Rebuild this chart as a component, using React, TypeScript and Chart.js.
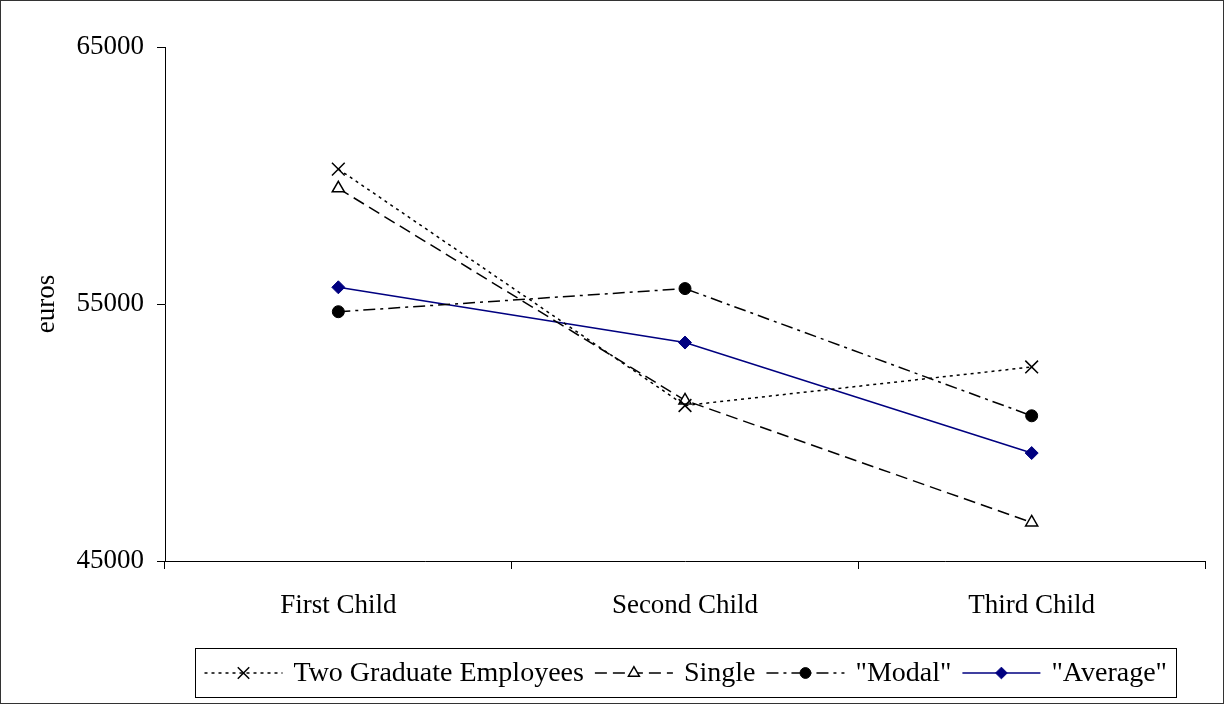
import React, { useEffect, useRef } from "react";
import { Chart, registerables } from "chart.js";
import { drawPoint } from "chart.js/helpers";

Chart.register(...registerables);

// Category labels and series values (euros)
const categories = ["First Child", "Second Child", "Third Child"];
const twoGraduate = [60250, 51050, 52550];
const single = [59500, 51250, 46500];
const modal = [54700, 55600, 50650];
const average = [55650, 53500, 49200];
const yTicks = [45000, 55000, 65000];

const SERIF = "'Liberation Serif', 'Times New Roman', serif";
const WIDTH = 1224;
const HEIGHT = 704;

// Legend box drawn under the plot: line sample with marker, then label
const lineLegend = {
  id: "lineLegend",
  afterDraw(chart: any) {
    const ctx: CanvasRenderingContext2D = chart.ctx;
    const sets = chart.data.datasets;
    const sample = 78;
    const gapText = 11;
    const gapItem = 11;
    const padX = 9;
    ctx.save();
    ctx.font = `28px ${SERIF}`;
    const widths = sets.map((d: any) => ctx.measureText(d.label).width);
    const total =
      padX * 2 +
      sets.length * (sample + gapText) +
      widths.reduce((a: number, b: number) => a + b, 0) +
      gapItem * (sets.length - 1);
    const cx = (chart.chartArea.left + chart.chartArea.right) / 2;
    const x0 = Math.round(cx - total / 2) + 0.5;
    const top = 648.5;
    const h = 49;
    ctx.strokeStyle = "#000";
    ctx.lineWidth = 1;
    ctx.setLineDash([]);
    ctx.strokeRect(x0, top, Math.round(total), h);
    const cy = top + h / 2;
    let x = x0 + padX;
    sets.forEach((d: any, i: number) => {
      ctx.setLineDash(d.borderDash || []);
      ctx.strokeStyle = d.borderColor;
      ctx.lineWidth = d.borderWidth;
      ctx.beginPath();
      ctx.moveTo(x, cy);
      ctx.lineTo(x + sample, cy);
      ctx.stroke();
      ctx.setLineDash([]);
      ctx.fillStyle = d.pointBackgroundColor;
      ctx.strokeStyle = d.pointBorderColor;
      ctx.lineWidth = d.pointBorderWidth;
      drawPoint(
        ctx,
        {
          pointStyle: d.pointStyle,
          radius: d.pointRadius * 0.9,
          borderWidth: d.pointBorderWidth,
          rotation: 0,
        } as any,
        x + sample / 2,
        cy
      );
      ctx.fillStyle = "#000";
      ctx.textAlign = "left";
      ctx.textBaseline = "middle";
      ctx.fillText(d.label, x + sample + gapText, cy + 1);
      x += sample + gapText + widths[i] + gapItem;
    });
    ctx.restore();
  },
};

// Thin frame around the whole figure
const outerFrame = {
  id: "outerFrame",
  afterDraw(chart: any) {
    const ctx: CanvasRenderingContext2D = chart.ctx;
    ctx.save();
    ctx.strokeStyle = "#333";
    ctx.lineWidth = 1;
    ctx.strokeRect(0.5, 0.5, chart.width - 1, chart.height - 1);
    ctx.restore();
  },
};

export default function App() {
  const canvasRef = useRef<HTMLCanvasElement | null>(null);

  useEffect(() => {
    const canvas = canvasRef.current;
    if (!canvas) return;
    Chart.defaults.font.family = SERIF;
    Chart.defaults.color = "#000";

    const chart = new Chart(canvas, {
      type: "line",
      data: {
        labels: categories,
        datasets: [
          {
            label: "Two Graduate Employees",
            data: twoGraduate,
            borderColor: "#000",
            borderWidth: 1.5,
            borderDash: [3, 4],
            pointStyle: "crossRot",
            pointRadius: 9,
            pointBorderWidth: 1.5,
            pointBorderColor: "#000",
            pointBackgroundColor: "#000",
            tension: 0,
            fill: false,
          },
          {
            label: "Single",
            data: single,
            borderColor: "#000",
            borderWidth: 1.5,
            borderDash: [12, 6],
            pointStyle: "triangle",
            pointRadius: 7,
            pointBorderWidth: 1.5,
            pointBorderColor: "#000",
            pointBackgroundColor: "#fff",
            tension: 0,
            fill: false,
          },
          {
            label: '"Modal"',
            data: modal,
            borderColor: "#000",
            borderWidth: 1.5,
            borderDash: [12, 5, 3, 5],
            pointStyle: "circle",
            pointRadius: 6,
            pointBorderWidth: 1,
            pointBorderColor: "#000",
            pointBackgroundColor: "#000",
            tension: 0,
            fill: false,
          },
          {
            label: '"Average"',
            data: average,
            borderColor: "#000080",
            borderWidth: 1.5,
            pointStyle: "rectRot",
            pointRadius: 6.5,
            pointBorderWidth: 1,
            pointBorderColor: "#000080",
            pointBackgroundColor: "#000080",
            tension: 0,
            fill: false,
          },
        ],
      },
      options: {
        responsive: false,
        animation: false,
        events: [],
        layout: { padding: { top: 47, right: 19, bottom: 0, left: 0 } },
        plugins: {
          legend: { display: false },
          tooltip: { enabled: false },
        },
        scales: {
          x: {
            type: "category",
            offset: true,
            grid: {
              offset: true,
              drawOnChartArea: false,
              drawTicks: true,
              tickLength: 8,
              color: "#000",
              lineWidth: 1,
            },
            border: { display: true, color: "#000", width: 1 },
            ticks: {
              color: "#000",
              padding: 21,
              font: { size: 27, family: SERIF },
              maxRotation: 0,
            },
            afterFit(scale: any) {
              scale.height = 143;
            },
          },
          y: {
            min: 45000,
            max: 65000,
            grid: {
              drawOnChartArea: false,
              drawTicks: true,
              tickLength: 8,
              color: "#000",
              lineWidth: 1,
            },
            border: { display: true, color: "#000", width: 1 },
            ticks: {
              color: "#000",
              padding: 13,
              font: { size: 27, family: SERIF },
              callback: (v: any) => String(v),
            },
            afterBuildTicks(scale: any) {
              scale.ticks = yTicks.map((v) => ({ value: v }));
            },
            title: {
              display: true,
              text: "euros",
              color: "#000",
              font: { size: 27, family: SERIF },
              padding: { top: 31, bottom: 0 },
            },
            afterFit(scale: any) {
              scale.width = 165;
            },
          },
        },
      },
      plugins: [lineLegend, outerFrame],
    });

    return () => chart.destroy();
  }, []);

  return (
    <div
      style={{
        position: "absolute",
        left: 0,
        top: 0,
        width: WIDTH,
        height: HEIGHT,
        background: "#fff",
      }}
    >
      <canvas ref={canvasRef} width={WIDTH} height={HEIGHT} />
    </div>
  );
}
